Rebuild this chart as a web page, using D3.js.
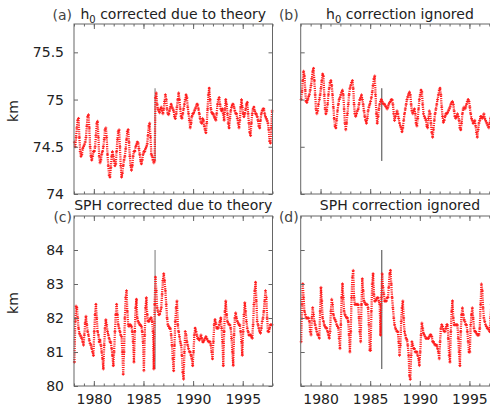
<!DOCTYPE html>
<html>
<head>
<meta charset="utf-8">
<script src="https://cdn.jsdelivr.net/npm/d3@7"></script>
<style>
  body { margin: 0; background: #fff; }
  svg { display: block; font-family: "DejaVu Sans", sans-serif; }
</style>
</head>
<body>
<div id="chart"></div>
<script>
// monthly values, one row per year 1978..1997
const startYear = 1978;
const endYear = 1998;
const xMajorYears = [1980, 1985, 1990, 1995];
const h0Ticks = [74, 74.5, 75, 75.5];
const sphTicks = [80, 81, 82, 83, 84];
const eventYear = 1986.17;
const h0EventRange = [74.35, 75.12];
const sphEventRange = [80.5, 84.0];

const h0Corrected = [
  [74.55, 74.5, 74.6, 74.7, 74.78, 74.8, 74.6, 74.45, 74.4, 74.42, 74.48, 74.5],
  [74.52, 74.55, 74.6, 74.72, 74.82, 74.84, 74.7, 74.5, 74.4, 74.36, 74.4, 74.45],
  [74.45, 74.5, 74.62, 74.75, 74.77, 74.6, 74.4, 74.33, 74.36, 74.42, 74.45, 74.5],
  [74.58, 74.68, 74.7, 74.6, 74.42, 74.3, 74.2, 74.18, 74.28, 74.4, 74.45, 74.4],
  [74.35, 74.3, 74.32, 74.45, 74.58, 74.66, 74.68, 74.5, 74.3, 74.18, 74.22, 74.3],
  [74.36, 74.4, 74.48, 74.58, 74.66, 74.68, 74.55, 74.4, 74.3, 74.25, 74.3, 74.4],
  [74.45, 74.45, 74.5, 74.52, 74.55, 74.54, 74.48, 74.42, 74.35, 74.32, 74.36, 74.42],
  [74.45, 74.45, 74.48, 74.5, 74.53, 74.62, 74.72, 74.75, 74.6, 74.42, 74.4, 74.36],
  [74.33, 74.35, 75.02, 75.07, 74.95, 74.9, 74.88, 74.86, 74.9, 74.92, 74.88, 74.85],
  [74.9, 74.98, 75.05, 75.0, 74.9, 74.85, 74.84, 74.88, 74.92, 74.95, 74.92, 74.9],
  [74.88, 74.82, 74.8, 74.85, 74.92, 75.0, 75.07, 75.0, 74.9, 74.82, 74.8, 74.85],
  [74.9, 74.95, 75.0, 75.05, 75.02, 74.92, 74.85, 74.78, 74.7, 74.75, 74.82, 74.85],
  [74.85, 74.88, 74.9, 74.92, 74.95, 74.95, 74.9, 74.85, 74.8, 74.76, 74.75, 74.8],
  [74.78, 74.72, 74.68, 74.65, 74.75, 74.9, 75.05, 75.12, 75.0, 74.9, 74.86, 74.85],
  [74.85, 74.82, 74.8, 74.78, 74.85, 74.95, 75.0, 75.02, 74.95, 74.9, 74.88, 74.9],
  [74.85, 74.78, 74.9, 75.0, 74.95, 74.85, 74.75, 74.7, 74.8, 74.88, 74.92, 74.95],
  [74.95, 74.92, 74.88, 74.85, 74.85, 74.8, 74.75, 74.7, 74.78, 74.92, 75.0, 74.92],
  [74.85, 74.82, 74.85, 74.9, 74.95, 74.97, 74.85, 74.75, 74.65, 74.62, 74.75, 74.85],
  [74.9, 74.92, 74.88, 74.85, 74.85, 74.82, 74.78, 74.72, 74.7, 74.78, 74.85, 74.88],
  [74.9, 74.9, 74.85, 74.82, 74.8, 74.78, 74.75, 74.68, 74.56, 74.54, 74.7, 74.88]
];

const h0Ignored = [
  [75.0, 75.08, 75.2, 75.3, 75.25, 75.1, 74.98, 74.97, 75.0, 75.03, 75.05, 75.1],
  [75.15, 75.22, 75.3, 75.33, 75.2, 75.05, 74.9, 74.85, 74.88, 74.95, 75.0, 75.05],
  [75.12, 75.2, 75.27, 75.25, 75.05, 74.9, 74.85, 74.88, 74.95, 75.05, 75.12, 75.18],
  [75.2, 75.15, 75.05, 74.92, 74.8, 74.72, 74.7, 74.78, 74.88, 74.95, 75.0, 75.02],
  [75.05, 75.08, 75.1, 75.05, 74.9, 74.75, 74.68, 74.75, 74.85, 74.95, 75.05, 75.12],
  [75.15, 75.18, 75.2, 75.12, 74.95, 74.85, 74.82, 74.85, 74.88, 74.9, 74.95, 75.0],
  [75.02, 75.05, 75.0, 74.95, 74.88, 74.82, 74.78, 74.75, 74.8, 74.88, 74.92, 74.95],
  [74.98, 75.02, 75.08, 75.15, 75.22, 75.25, 75.05, 74.85, 74.75, 74.82, 74.9, 74.95],
  [74.98, 75.0, 74.98, 74.96, 74.95, 74.95, 74.93, 74.92, 74.9, 74.92, 74.95, 74.97],
  [74.98, 75.0, 75.0, 74.95, 74.85, 74.78, 74.82, 74.85, 74.88, 74.85, 74.8, 74.75],
  [74.72, 74.7, 74.66, 74.7, 74.78, 74.85, 74.9, 74.95, 75.0, 75.03, 75.06, 75.08],
  [75.05, 74.95, 74.88, 74.85, 74.88, 74.9, 74.85, 74.75, 74.72, 74.8, 74.9, 75.0],
  [75.05, 75.1, 75.08, 74.95, 74.85, 74.82, 74.8, 74.78, 74.72, 74.7, 74.8, 74.88],
  [74.85, 74.75, 74.65, 74.6, 74.68, 74.78, 74.85, 74.9, 74.95, 75.0, 75.05, 75.1],
  [75.12, 75.05, 74.92, 74.82, 74.76, 74.78, 74.82, 74.85, 74.85, 74.86, 74.88, 74.9],
  [74.92, 74.95, 74.97, 74.98, 74.95, 74.88, 74.82, 74.8, 74.82, 74.85, 74.82, 74.78],
  [74.7, 74.68, 74.75, 74.85, 74.9, 74.92, 74.9, 74.92, 74.95, 74.98, 75.0, 74.98],
  [74.92, 74.85, 74.8, 74.78, 74.75, 74.76, 74.78, 74.72, 74.65, 74.6, 74.68, 74.75],
  [74.78, 74.82, 74.82, 74.8, 74.82, 74.85, 74.8, 74.78, 74.76, 74.74, 74.72, 74.7],
  [74.75, 74.8, 74.82, 74.8, 74.78, 74.75, 74.72, 74.7, 74.72, 74.78, 74.8, 74.8]
];

const sphCorrected = [
  [80.7, 81.9, 82.35, 82.3, 82.0, 81.7, 81.55, 81.5, 81.45, 81.4, 81.3, 81.2],
  [81.5, 81.85, 82.05, 81.8, 81.6, 81.5, 81.35, 81.25, 81.2, 81.1, 81.0, 80.9],
  [81.6, 82.1, 82.4, 82.0, 81.6, 81.5, 81.3, 81.35, 81.2, 81.0, 80.8, 80.5],
  [81.2, 81.7, 81.95, 81.8, 81.6, 81.5, 81.4, 81.3, 81.3, 81.1, 80.9, 80.6],
  [81.0, 81.6, 82.1, 82.4, 82.1, 81.8, 81.7, 81.6, 81.5, 81.45, 81.0, 80.35],
  [81.0, 82.0, 82.6, 82.8, 82.2, 81.8, 81.75, 81.8, 81.8, 81.75, 81.6, 81.3],
  [80.7, 81.6, 82.3, 82.55, 82.0, 81.9, 81.85, 81.8, 81.8, 81.75, 81.6, 81.3],
  [80.45, 81.5, 82.3, 82.6, 82.1, 81.9, 81.9, 81.95, 82.0, 82.0, 81.9, 81.6],
  [80.5, 82.4, 83.2, 82.8, 82.3, 82.2, 82.1, 82.1, 82.2, 82.3, 82.7, 83.1],
  [83.3, 83.1, 82.8, 82.4, 82.0, 81.8, 81.75, 81.7, 81.7, 81.5, 81.2, 80.8],
  [80.45, 81.2, 81.9, 82.3, 82.5, 81.8, 81.6, 81.45, 81.3, 81.2, 80.9, 80.4],
  [80.2, 81.0, 81.6, 81.5, 81.3, 81.2, 81.1, 81.0, 81.0, 80.9, 80.8, 80.6],
  [81.0, 81.5, 81.7, 81.6, 81.5, 81.4, 81.4, 81.35, 81.4, 81.5, 81.4, 81.3],
  [81.3, 81.35, 81.4, 81.45, 81.4, 81.35, 81.3, 81.3, 81.3, 81.2, 81.0, 80.8],
  [81.3, 81.8, 81.95, 81.85, 81.7, 81.7, 81.7, 81.8, 81.9, 82.0, 81.7, 81.3],
  [80.6, 81.6, 82.2, 82.5, 82.1, 81.9, 81.85, 81.8, 81.8, 81.7, 81.4, 81.0],
  [80.6, 81.5, 82.0, 82.15, 82.0, 81.9, 81.85, 81.8, 81.8, 81.6, 81.3, 80.9],
  [81.6, 82.1, 82.45, 82.2, 81.9, 81.7, 81.6, 81.5, 81.5, 81.5, 81.45, 81.4],
  [81.8, 82.4, 82.8, 83.05, 82.5, 81.9, 81.8, 81.7, 81.6, 81.55, 81.7, 81.9],
  [82.0, 82.2, 82.5, 82.8, 82.6, 82.0, 81.6, 81.6, 81.7, 81.8, 81.8, 81.8]
];

const sphIgnored = [
  [81.3, 82.4, 83.0, 82.6, 82.2, 82.1, 82.0, 82.0, 82.0, 82.0, 81.9, 81.6],
  [81.5, 82.0, 82.3, 82.1, 81.9, 81.8, 81.7, 81.6, 81.5, 81.5, 81.4, 82.2],
  [82.9, 82.5, 82.0, 81.9, 81.8, 81.75, 81.7, 81.7, 81.6, 81.5, 81.4, 81.6],
  [82.2, 82.55, 82.4, 82.1, 82.0, 81.95, 81.9, 81.8, 81.75, 81.7, 81.4, 81.1],
  [81.8, 82.6, 83.0, 82.6, 82.2, 82.1, 82.05, 82.0, 82.0, 81.9, 81.5, 81.0],
  [81.6, 82.6, 83.2, 83.4, 82.6, 82.4, 82.4, 82.4, 82.4, 82.4, 82.0, 81.6],
  [81.3, 82.4, 83.15, 82.8, 82.5, 82.45, 82.4, 82.4, 82.4, 82.3, 81.8, 81.05],
  [81.05, 82.2, 83.0, 83.3, 82.7, 82.5, 82.5, 82.55, 82.6, 82.6, 82.5, 82.4],
  [81.5, 82.6, 83.3, 82.9, 82.7, 82.5, 82.5, 82.5, 82.6, 82.6, 82.9, 83.3],
  [83.4, 83.0, 82.6, 82.3, 82.0, 81.8, 81.7, 81.65, 81.6, 81.6, 81.3, 80.9],
  [81.2, 81.9, 82.3, 82.5, 82.0, 81.6, 81.5, 81.4, 81.35, 81.2, 80.9, 80.3],
  [80.2, 80.9, 81.3, 81.2, 81.1, 81.1, 81.0, 81.0, 81.0, 80.9, 80.8, 80.6],
  [81.0, 81.5, 81.85, 81.7, 81.55, 81.5, 81.45, 81.4, 81.4, 81.4, 81.4, 81.45],
  [81.5, 81.5, 81.45, 81.3, 81.3, 81.25, 81.2, 81.2, 81.2, 81.1, 81.0, 80.8],
  [81.3, 81.7, 81.8, 81.75, 81.65, 81.6, 81.6, 81.7, 81.8, 81.8, 81.4, 80.9],
  [80.7, 81.6, 82.2, 82.5, 82.0, 81.8, 81.8, 81.8, 81.8, 81.8, 81.4, 81.0],
  [80.6, 81.6, 82.1, 82.3, 82.1, 81.95, 81.9, 81.8, 81.8, 81.6, 81.3, 81.0],
  [81.0, 81.8, 82.1, 82.3, 82.0, 81.7, 81.6, 81.6, 81.55, 81.5, 81.5, 81.5],
  [81.7, 82.4, 83.0, 82.8, 82.3, 82.0, 81.9, 81.8, 81.75, 81.7, 81.7, 81.65],
  [81.6, 82.0, 82.4, 82.6, 82.4, 82.0, 81.7, 81.6, 81.7, 81.8, 81.8, 81.8]
];

const width = 490, height = 412;
const panelW = 198.5, panelH = 170;
const colX = [74, 300.7];
const rowY = [24, 216];

const svg = d3.select('#chart').append('svg')
  .attr('width', width)
  .attr('height', height);

const toPoints = rows => rows.flat().map((v, i) => ({ t: startYear + (i + 0.5) / 12, v }));

const panels = [
  { col: 0, row: 0, tag: '(a)', sub: true, title: ' corrected due to theory', data: h0Corrected,
    domain: [74, 75.8], ticks: h0Ticks, ev: h0EventRange, evColor: '#aaaaaa', evWidth: 1.6, labels: true },
  { col: 1, row: 0, tag: '(b)', sub: true, title: ' correction ignored', data: h0Ignored,
    domain: [74, 75.8], ticks: h0Ticks, ev: h0EventRange, evColor: '#444444', evWidth: 1, labels: false },
  { col: 0, row: 1, tag: '(c)', sub: false, title: 'SPH corrected due to theory', data: sphCorrected,
    domain: [80, 85], ticks: sphTicks, ev: sphEventRange, evColor: '#aaaaaa', evWidth: 1.6, labels: true },
  { col: 1, row: 1, tag: '(d)', sub: false, title: 'SPH correction ignored', data: sphIgnored,
    domain: [80, 85], ticks: sphTicks, ev: sphEventRange, evColor: '#444444', evWidth: 1, labels: false }
];

const allYears = d3.range(startYear, endYear + 1);

panels.forEach(p => {
  const left = colX[p.col], top = rowY[p.row];
  const x = d3.scaleLinear().domain([startYear, endYear]).range([left, left + panelW]);
  const y = d3.scaleLinear().domain(p.domain).range([top + panelH, top]);
  const g = svg.append('g');
  const pts = toPoints(p.data);

  // event marker
  g.append('line')
    .attr('x1', x(eventYear)).attr('x2', x(eventYear))
    .attr('y1', y(p.ev[0])).attr('y2', y(p.ev[1]))
    .attr('stroke', p.evColor).attr('stroke-width', p.evWidth);

  // series: dotted trace + small crosses
  g.append('path')
    .datum(pts)
    .attr('fill', 'none')
    .attr('stroke', '#ff1a1a')
    .attr('stroke-width', 2.3)
    .attr('stroke-dasharray', '1.1,1.1')
    .attr('stroke-linejoin', 'round')
    .attr('d', d3.line().x(d => x(d.t)).y(d => y(d.v)));

  g.selectAll('.pt')
    .data(pts)
    .enter()
    .append('path')
    .attr('class', 'pt')
    .attr('transform', d => `translate(${x(d.t)},${y(d.v)})`)
    .attr('d', 'M-1.5,0H1.5M0,-1.5V1.5')
    .attr('stroke', '#ff1a1a')
    .attr('stroke-width', 0.8);

  // axes, ticks inward
  const styleAxis = sel => {
    sel.select('.domain').remove();
    sel.selectAll('.tick line').attr('stroke', '#666');
    sel.selectAll('.tick text').attr('fill', '#222').style('font-size', '14px').style('font-family', 'DejaVu Sans');
  };

  g.append('g').attr('transform', `translate(0,${top + panelH})`)
    .call(d3.axisBottom(x).tickValues(allYears).tickSize(-2.5).tickFormat(''))
    .call(styleAxis);
  g.append('g').attr('transform', `translate(0,${top + panelH})`)
    .call(d3.axisBottom(x).tickValues(xMajorYears).tickSize(-5).tickPadding(8)
      .tickFormat(p.row === 1 ? d3.format('d') : ''))
    .call(styleAxis);
  g.append('g').attr('transform', `translate(0,${top})`)
    .call(d3.axisTop(x).tickValues(allYears).tickSize(-2.5).tickFormat(''))
    .call(styleAxis);
  g.append('g').attr('transform', `translate(0,${top})`)
    .call(d3.axisTop(x).tickValues(xMajorYears).tickSize(-5).tickFormat(''))
    .call(styleAxis);

  g.append('g').attr('transform', `translate(${left},0)`)
    .call(d3.axisLeft(y).tickValues(p.ticks).tickSize(-4).tickPadding(10)
      .tickFormat(p.labels ? d3.format('') : ''))
    .call(styleAxis);
  g.append('g').attr('transform', `translate(${left + panelW},0)`)
    .call(d3.axisRight(y).tickValues(p.ticks).tickSize(-4).tickFormat(''))
    .call(styleAxis);

  // frame
  g.append('rect')
    .attr('x', left).attr('y', top)
    .attr('width', panelW).attr('height', panelH)
    .attr('fill', 'none').attr('stroke', '#666').attr('stroke-width', 1);

  // title
  const cx = left + panelW / 2;
  if (p.sub) {
    const t = g.append('text')
      .attr('x', cx).attr('y', top - 5)
      .attr('text-anchor', 'middle')
      .attr('fill', '#222').style('font-size', '14px');
    t.append('tspan').text('h');
    t.append('tspan').attr('dy', 4).style('font-size', '10px').text('0');
    t.append('tspan').attr('dy', -4).text(p.title);
  } else {
    g.append('text')
      .attr('x', cx).attr('y', top - 6)
      .attr('text-anchor', 'middle')
      .attr('fill', '#222').style('font-size', '14px')
      .text(p.title);
  }

  g.append('text')
    .attr('x', left - 2).attr('y', p.row === 0 ? top - 4 : top + 6)
    .attr('text-anchor', 'end')
    .attr('fill', '#444').style('font-size', '14px')
    .text(p.tag);

  if (p.col === 0) {
    g.append('text')
      .attr('transform', `translate(18,${top + panelH / 2 + 2}) rotate(-90)`)
      .attr('text-anchor', 'middle')
      .attr('fill', '#222').style('font-size', '14px')
      .text('km');
  }
});
</script>
</body>
</html>
